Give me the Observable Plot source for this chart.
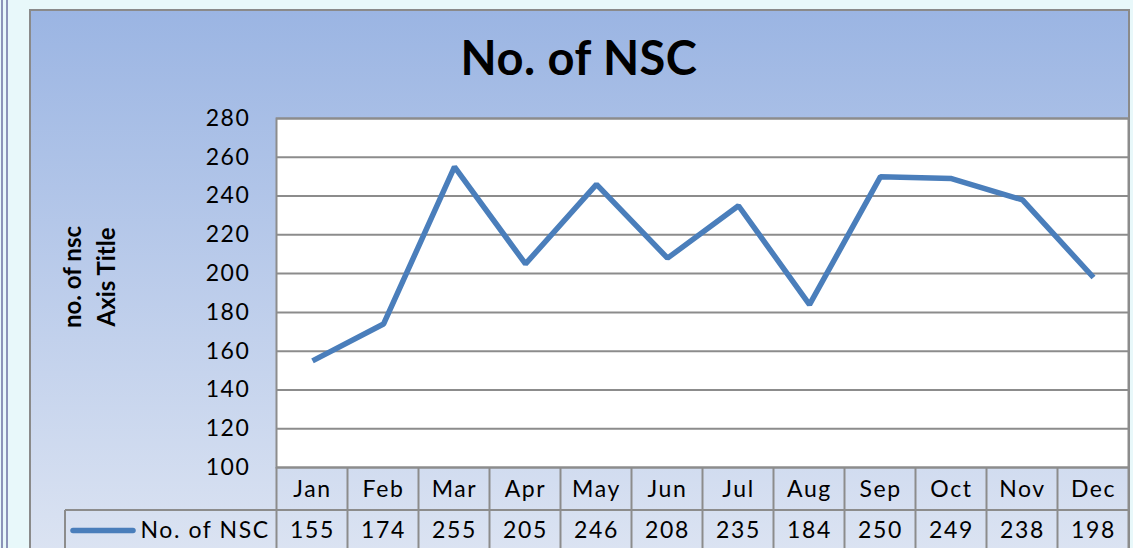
<!DOCTYPE html>
<html>
<head>
<meta charset="utf-8">
<script src="https://cdn.jsdelivr.net/npm/d3@7"></script>
<script src="https://cdn.jsdelivr.net/npm/@observablehq/plot@0.6"></script>
<style>
  html, body { margin: 0; padding: 0; }
  body { width: 1133px; height: 548px; overflow: hidden; background: #e8f8fa; font-family: Lato, "Open Sans", sans-serif; }
  #wrap { position: relative; width: 1133px; height: 548px; overflow: hidden; }
  #edge1 { position: absolute; left: 1px; top: 0; width: 2px; height: 548px; background: #8c93b8; }
  #edge2 { position: absolute; left: 6px; top: 0; width: 2px; height: 548px; background: #8c93b8; }
  #chartbg { position: absolute; left: 29px; top: 9px; width: 1097px; height: 560px;
    border: 2px solid #8a8a8a; border-bottom: none;
    background: linear-gradient(to bottom, #9bb5e3 0px, #dbe3f2 539px); }
  #title { position: absolute; left: 29px; width: 1100px; top: 34px; text-align: center;
    font-family: Lato, sans-serif; font-weight: 700; font-size: 47px; color: #000; line-height: 1; letter-spacing: 0.5px; }
  #plot { position: absolute; left: 0; top: 0; }
  #plot svg { background: transparent; overflow: visible; }
</style>
</head>
<body>
<div id="wrap">
  <div id="edge1"></div>
  <div id="edge2"></div>
  <div id="chartbg"></div>
  <div id="title">No. of NSC</div>
  <div id="plot"></div>
</div>
<script>
const months = ["Jan","Feb","Mar","Apr","May","Jun","Jul","Aug","Sep","Oct","Nov","Dec"];
const values = [155, 174, 255, 205, 246, 208, 235, 184, 250, 249, 238, 198];
const yTicks = [100, 120, 140, 160, 180, 200, 220, 240, 260, 280];
const seriesName = "No. of NSC";
const yTitleLines = ["no. of nsc", "Axis Title"];

const data = months.map((m, i) => ({month: m, value: values[i]}));

const grid = "#8c8c8c";
const lineColor = "#4a7ebb";
const font = "Lato, 'Open Sans', sans-serif";
const fs = 23;

const plot = Plot.plot({
  width: 1133,
  height: 548,
  marginLeft: 276,
  marginRight: 5,
  marginTop: 118,
  marginBottom: 81,
  style: {background: "transparent", fontFamily: font, overflow: "visible"},
  x: {type: "point", domain: months, padding: 0.5, axis: null},
  y: {domain: [100, 280], axis: null},
  marks: [
    Plot.frame({fill: "white", stroke: grid, strokeWidth: 2}),
    Plot.ruleY(yTicks, {stroke: grid, strokeWidth: 2}),
    Plot.line(data, {x: "month", y: "value", stroke: lineColor, strokeWidth: 5.5, strokeLinejoin: "miter", strokeLinecap: "butt"}),
    Plot.text(yTicks, {y: d => d, text: d => String(d), frameAnchor: "left", textAnchor: "end", lineAnchor: "middle", dx: -26, fontSize: fs, fill: "#000", fontFamily: font}),
    Plot.text(months, {x: d => d, text: d => d, frameAnchor: "bottom", lineAnchor: "middle", dy: 22, fontSize: fs, fill: "#000", fontFamily: font}),
    Plot.text(data, {x: "month", text: d => String(d.value), frameAnchor: "bottom", lineAnchor: "middle", dy: 63, fontSize: fs, fill: "#000", fontFamily: font}),
    Plot.text([seriesName], {text: d => d, frameAnchor: "bottom-left", lineAnchor: "middle", dx: -136, dy: 63, textAnchor: "start", fontSize: fs, fill: "#000", fontFamily: font})
  ]
});

document.getElementById("plot").appendChild(plot);

// letter spacing for table/tick texts
d3.select(plot).selectAll("text").style("letter-spacing", "1.6px");

// table grid lines derived from the x scale
const xs = plot.scale("x");
const x0 = xs.apply(months[0]);
const step = xs.apply(months[1]) - x0;
const ys = plot.scale("y");
const yBottom = ys.apply(100);
const rowH = 43;
const svg = d3.select(plot);
const g = svg.append("g").attr("stroke", grid).attr("stroke-width", 2);
const left = x0 - step / 2;
const right = xs.apply(months[months.length - 1]) + step / 2;
const legendLeft = 65;
g.append("line").attr("x1", legendLeft).attr("x2", right).attr("y1", yBottom + rowH).attr("y2", yBottom + rowH);
for (let i = 0; i <= months.length; i++) {
  const xv = left + i * step;
  g.append("line").attr("x1", xv).attr("x2", xv).attr("y1", yBottom).attr("y2", 560);
}
g.append("line").attr("x1", legendLeft).attr("x2", legendLeft).attr("y1", yBottom + rowH).attr("y2", 560);

// legend swatch
svg.append("line")
  .attr("x1", 73).attr("x2", 133)
  .attr("y1", yBottom + rowH * 1.5 - 1).attr("y2", yBottom + rowH * 1.5 - 1)
  .attr("stroke", lineColor).attr("stroke-width", 5.5).attr("stroke-linecap", "round");

// y axis title (rotated, two lines)
const yt = svg.append("text")
  .attr("transform", `translate(0,277) rotate(-90)`)
  .attr("text-anchor", "middle")
  .attr("font-family", font)
  .attr("font-weight", 700)
  .attr("font-size", 24)
  .attr("fill", "#000");
yt.append("tspan").attr("x", 0).attr("y", 81).text(yTitleLines[0]);
yt.append("tspan").attr("x", 0).attr("y", 115).text(yTitleLines[1]);
</script>
</body>
</html>
